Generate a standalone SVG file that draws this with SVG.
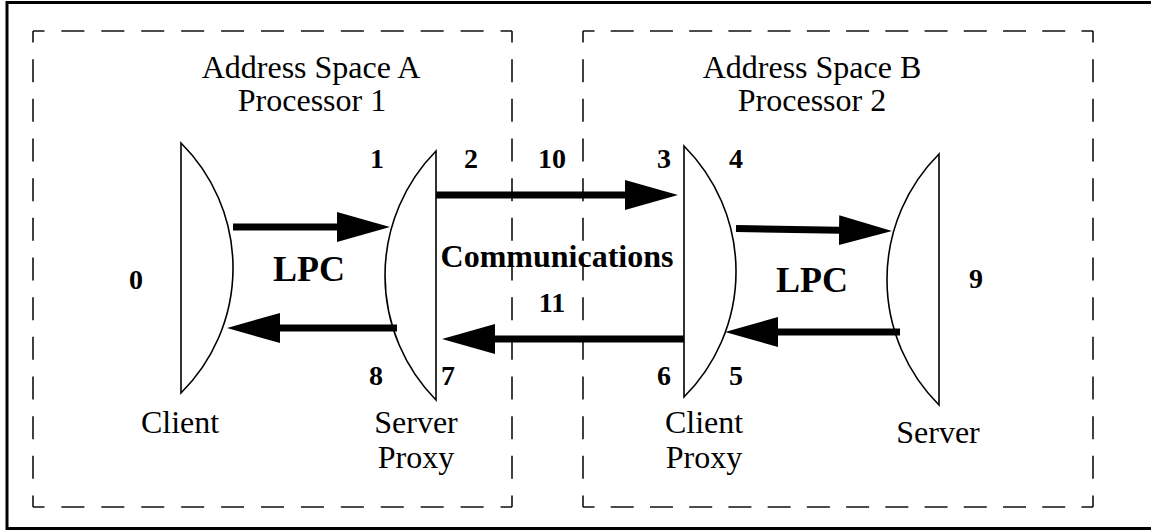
<svg xmlns="http://www.w3.org/2000/svg" width="1151" height="531" viewBox="0 0 1151 531">
  <style>
    .frame { fill: none; stroke: #000; stroke-width: 3; }
    .space { fill: none; stroke: #111; stroke-width: 1.6; }
    .h-a { stroke-dasharray: 23 16.92; stroke-dashoffset: 11.5; }
    .v-ab { stroke-dasharray: 23 16.67; stroke-dashoffset: 11.5; }
    .h-b { stroke-dasharray: 23 16.23; stroke-dashoffset: 11.5; }
    .lens { fill: #fff; stroke: #000; stroke-width: 1.6; stroke-linejoin: miter; }
    .flow { fill: none; stroke: #000; stroke-width: 7; marker-end: url(#head); }
    .title { font-family: "Liberation Serif", "Times New Roman", serif; font-size: 32px; text-anchor: middle; fill: #000; }
    .num { font-family: "Liberation Serif", "Times New Roman", serif; font-size: 28px; font-weight: bold; text-anchor: middle; fill: #000; }
    .lpc { font-family: "Liberation Serif", "Times New Roman", serif; font-size: 36px; font-weight: bold; text-anchor: middle; fill: #000; }
    .comm { font-family: "Liberation Serif", "Times New Roman", serif; font-size: 32px; font-weight: bold; text-anchor: middle; fill: #000; }
  </style>
  <defs>
    <marker id="head" markerUnits="userSpaceOnUse" markerWidth="53" markerHeight="30" refX="1" refY="15" orient="auto" viewBox="0 0 53 30">
      <path d="M0,0 L53,15 L0,30 Z" fill="#000"/>
    </marker>
  </defs>

  <rect width="1151" height="531" fill="#fff"/>
  <rect class="frame" x="7" y="2.5" width="1150" height="526"/>

  <!-- Address space A: processor 1 -->
  <g id="address-space-a">
    <line class="space h-a" x1="33" y1="31" x2="512" y2="31"/>
    <line class="space h-a" x1="33" y1="507" x2="512" y2="507"/>
    <line class="space v-ab" x1="33" y1="31" x2="33" y2="507"/>
    <line class="space v-ab" x1="512" y1="31" x2="512" y2="507"/>
    <text class="title" x="311" y="78">Address Space A</text>
    <text class="title" x="312" y="111">Processor 1</text>
  </g>

  <!-- Address space B: processor 2 -->
  <g id="address-space-b">
    <line class="space h-b" x1="583" y1="31" x2="1093" y2="31"/>
    <line class="space h-b" x1="583" y1="507" x2="1093" y2="507"/>
    <line class="space v-ab" x1="583" y1="31" x2="583" y2="507"/>
    <line class="space v-ab" x1="1093" y1="31" x2="1093" y2="507"/>
    <text class="title" x="812" y="78">Address Space B</text>
    <text class="title" x="812" y="111">Processor 2</text>
  </g>

  <g id="client">
    <path class="lens" d="M181,143 A176.2,176.2 0 0 1 181,393 Z"/>
    <text class="title" x="180" y="433">Client</text>
    <text class="num" x="136" y="289">0</text>
  </g>

  <g id="server-proxy">
    <path class="lens" d="M436,151 L436,400 A177.5,177.5 0 0 1 436,151 Z"/>
    <text class="title" x="416" y="433">Server</text>
    <text class="title" x="416" y="468">Proxy</text>
    <text class="num" x="377" y="168">1</text>
    <text class="num" x="376" y="385">8</text>
    <text class="num" x="471" y="168">2</text>
    <text class="num" x="448" y="385">7</text>
  </g>

  <g id="client-proxy">
    <path class="lens" d="M684,146 A177.4,177.4 0 0 1 684,397 Z"/>
    <text class="title" x="704" y="433">Client</text>
    <text class="title" x="704" y="468">Proxy</text>
    <text class="num" x="664" y="168">3</text>
    <text class="num" x="736" y="168">4</text>
    <text class="num" x="736" y="385">5</text>
    <text class="num" x="664" y="385">6</text>
  </g>

  <g id="server">
    <path class="lens" d="M939,154 L939,405 A177.4,177.4 0 0 1 939,154 Z"/>
    <text class="title" x="938" y="443">Server</text>
    <text class="num" x="976" y="288">9</text>
  </g>

  <!-- call and return paths -->
  <g id="connectors">
    <path class="flow" d="M233,227 L338,227"/>
    <path class="flow" d="M397,328 L279,328"/>
    <path class="flow" d="M436,195 L626,195"/>
    <path class="flow" d="M684,339 L494,339"/>
    <path class="flow" d="M736,228.5 L840,230.2"/>
    <path class="flow" d="M900,332 L777,332"/>
  </g>

  <g id="link-labels">
    <text class="lpc" x="309" y="281">LPC</text>
    <text class="lpc" x="812" y="292">LPC</text>
    <text class="comm" x="557" y="267">Communications</text>
    <text class="num" x="552" y="168">10</text>
    <text class="num" x="552" y="312">11</text>
  </g>
</svg>
